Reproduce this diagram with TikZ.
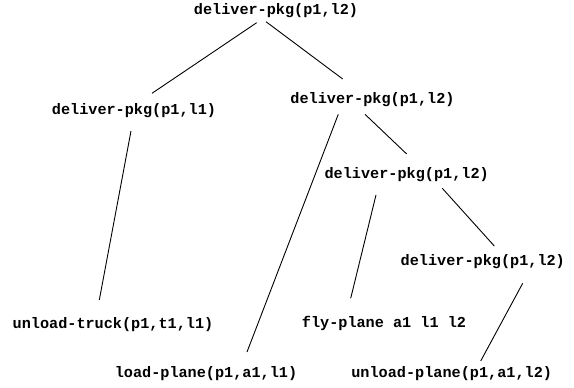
\documentclass[tikz,border=0pt]{standalone}
\usepackage{fontspec}
\setmonofont{Liberation Mono}
\begin{document}
\begin{tikzpicture}[x=1pt,y=-1pt,
  lbl/.style={font=\ttfamily\bfseries\fontsize{15.2}{18}\selectfont, inner sep=0pt, anchor=base},
  edge/.style={line width=0.9pt, black}]
\useasboundingbox (0,0) rectangle (574,388);
\node[lbl] (root) at (276,14.5) {deliver-pkg(p1,l2)};
\node[lbl] (L)    at (134,114.3) {deliver-pkg(p1,l1)};
\node[lbl] (R)    at (372.5,103.3) {deliver-pkg(p1,l2)};
\node[lbl] (RR)   at (406.7,178.3) {deliver-pkg(p1,l2)};
\node[lbl] (RRR)  at (482.8,265) {deliver-pkg(p1,l2)};
\node[lbl] (UT)   at (113,328) {unload-truck(p1,t1,l1)};
\node[lbl] (FP)   at (384,327.7) {fly-plane a1 l1 l2};
\node[lbl] (LP)   at (206,377) {load-plane(p1,a1,l1)};
\node[lbl] (UP)   at (451.7,377.3) {unload-plane(p1,a1,l2)};
\draw[edge] ([shift={(-19.3,8.2)}]root.base) -- ([shift={(18,-21)}]L.base);
\draw[edge] ([shift={(-10,7.2)}]root.base) -- ([shift={(-29.8,-24.3)}]R.base);
\draw[edge] ([shift={(-3,16.7)}]L.base) -- ([shift={(-13.7,-28)}]UT.base);
\draw[edge] ([shift={(-34.2,11)}]R.base) -- ([shift={(41,-25)}]LP.base);
\draw[edge] ([shift={(-7.5,11)}]R.base) -- ([shift={(0,-24.3)}]RR.base);
\draw[edge] ([shift={(-30.7,16.7)}]RR.base) -- ([shift={(-33.3,-29.4)}]FP.base);
\draw[edge] ([shift={(35.6,10)}]RR.base) -- ([shift={(11.5,-19)}]RRR.base);
\draw[edge] ([shift={(39.9,18.3)}]RRR.base) -- ([shift={(29,-16.3)}]UP.base);
\end{tikzpicture}
\end{document}
